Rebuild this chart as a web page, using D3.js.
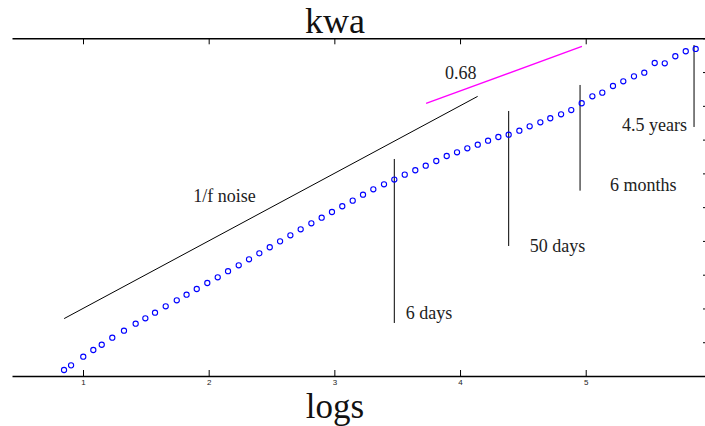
<!DOCTYPE html>
<html>
<head>
<meta charset="utf-8">
<script src="https://cdn.jsdelivr.net/npm/d3@7"></script>
<style>
  html, body { margin: 0; padding: 0; background: #fff; }
  svg { display: block; }
</style>
</head>
<body>
<svg id="chart" width="705" height="426"></svg>
<script>
// Fluctuation function vs. window size, both in log10 units
const logWindow = [
  0.849, 0.905, 1.002, 1.082, 1.149, 1.233, 1.326, 1.419, 1.496, 1.573,
  1.658, 1.746, 1.824, 1.905, 1.989, 2.072, 2.154, 2.239, 2.321, 2.403,
  2.486, 2.568, 2.650, 2.732, 2.817, 2.899, 2.981, 3.063, 3.146, 3.228,
  3.310, 3.395, 3.477, 3.560, 3.644, 3.727, 3.811, 3.894, 3.976, 4.058,
  4.141, 4.223, 4.305, 4.387, 4.472, 4.554, 4.639, 4.718, 4.804, 4.885,
  4.968, 5.053, 5.132, 5.217, 5.299, 5.384, 5.466, 5.549, 5.629, 5.713,
  5.796, 5.875
];
const logFluct = [
  0.089, 0.158, 0.286, 0.385, 0.463, 0.567, 0.671, 0.774, 0.854, 0.937,
  1.032, 1.121, 1.204, 1.288, 1.377, 1.461, 1.552, 1.639, 1.728, 1.817,
  1.906, 1.994, 2.083, 2.172, 2.261, 2.344, 2.428, 2.513, 2.596, 2.684,
  2.764, 2.838, 2.909, 2.981, 3.046, 3.114, 3.183, 3.257, 3.312, 3.371,
  3.425, 3.484, 3.539, 3.573, 3.632, 3.697, 3.756, 3.816, 3.875, 3.938,
  4.038, 4.141, 4.195, 4.294, 4.363, 4.437, 4.491, 4.634, 4.630, 4.734,
  4.808, 4.842
];

// Reference slopes: y = slope * x + intercept over [from, to]
const refNames = ["1/f noise", "0.68"];
const refSlope = [1, 0.68];
const refIntercept = [0, 1.5];
const refFrom = [0.85, 3.73];
const refTo = [4.14, 4.97];

// Crossover time scales
const crossLabels = ["6 days", "50 days", "6 months", "4.5 years"];
const crossX = [3.477, 4.387, 4.955, 5.862];
const crossLow = [0.785, 1.925, 2.744, 3.687];
const crossHigh = [3.213, 3.924, 4.309, 4.901];

const xTicks = [1, 2, 3, 4, 5];
const yTicks = d3.range(0, 5.001, 0.5);

const titleText = "kwa";
const xLabelText = "logs";

// ---- layout ----
const svg = d3.select("#chart");
const plotLeft = 12, plotRight = 709, plotTop = 38.3, plotBottom = 376;

const x = d3.scaleLinear().domain([0.435, 5.981]).range([plotLeft, plotRight]);
const y = d3.scaleLinear().domain([0, 5]).range([plotBottom, plotTop]);

const serif = "'Liberation Serif', 'Times New Roman', serif";

// bottom axis with labels
const gx = svg.append("g")
  .attr("transform", `translate(0,${plotBottom})`)
  .call(d3.axisBottom(x).tickValues(xTicks).tickFormat(d3.format("d"))
        .tickSizeInner(-6).tickSizeOuter(0).tickPadding(3));
gx.select(".domain").attr("stroke", "#000").attr("stroke-width", 1.6);
gx.selectAll(".tick line").attr("stroke", "#000");
gx.selectAll(".tick text")
  .attr("font-family", "'Liberation Sans', Arial, sans-serif")
  .attr("font-size", 8).attr("fill", "#222");

// top axis, ticks only
const gt = svg.append("g")
  .attr("transform", `translate(0,${plotTop})`)
  .call(d3.axisTop(x).tickValues(xTicks).tickFormat("")
        .tickSizeInner(-6).tickSizeOuter(0));
gt.select(".domain").attr("stroke", "#000").attr("stroke-width", 1.6);
gt.selectAll(".tick line").attr("stroke", "#000");

// right axis, ticks only
const gr = svg.append("g")
  .attr("transform", `translate(${plotRight},0)`)
  .call(d3.axisRight(y).tickValues(yTicks).tickFormat("")
        .tickSizeInner(-6).tickSizeOuter(0));
gr.select(".domain").attr("stroke", "#000");
gr.selectAll(".tick line").attr("stroke", "#000");

// reference slope lines
const refColors = ["#000", "#ff00ff"];
refNames.forEach((name, i) => {
  svg.append("line")
    .attr("x1", x(refFrom[i])).attr("y1", y(refSlope[i] * refFrom[i] + refIntercept[i]))
    .attr("x2", x(refTo[i])).attr("y2", y(refSlope[i] * refTo[i] + refIntercept[i]))
    .attr("stroke", refColors[i]).attr("stroke-width", i === 0 ? 1 : 1.3);
});
// labels placed relative to each line's start
const refLabelOffset = [[129, -116.3], [19, -24.3]];
refNames.forEach((name, i) => {
  svg.append("text")
    .attr("x", x(refFrom[i]) + refLabelOffset[i][0])
    .attr("y", y(refSlope[i] * refFrom[i] + refIntercept[i]) + refLabelOffset[i][1])
    .attr("font-family", serif).attr("font-size", 18).attr("fill", "#222")
    .text(name);
});

// crossover markers
crossLabels.forEach((lab, i) => {
  svg.append("line")
    .attr("x1", x(crossX[i])).attr("x2", x(crossX[i]))
    .attr("y1", y(crossLow[i])).attr("y2", y(crossHigh[i]))
    .attr("stroke", "#000").attr("stroke-width", 1);
});
const crossLabelOffset = [[11.4, -3.7, "start"], [21, 6, "start"], [30, 0, "start"], [-7, 4, "end"]];
crossLabels.forEach((lab, i) => {
  svg.append("text")
    .attr("x", x(crossX[i]) + crossLabelOffset[i][0])
    .attr("y", y(crossLow[i]) + crossLabelOffset[i][1])
    .attr("text-anchor", crossLabelOffset[i][2])
    .attr("font-family", serif).attr("font-size", 18).attr("fill", "#222")
    .text(lab);
});

// data points
svg.append("g").selectAll("circle")
  .data(logWindow.map((d, i) => [d, logFluct[i]]))
  .join("circle")
  .attr("cx", d => x(d[0])).attr("cy", d => y(d[1]))
  .attr("r", 2.6)
  .attr("fill", "none").attr("stroke", "#0000ff").attr("stroke-width", 1.1);

// title and axis label
svg.append("text")
  .attr("x", 335).attr("y", 33.3).attr("text-anchor", "middle")
  .attr("font-family", serif).attr("font-size", 36).attr("fill", "#111")
  .text(titleText);
svg.append("text")
  .attr("x", 335).attr("y", 418.2).attr("text-anchor", "middle")
  .attr("font-family", serif).attr("font-size", 35).attr("fill", "#111")
  .text(xLabelText);
</script>
</body>
</html>
